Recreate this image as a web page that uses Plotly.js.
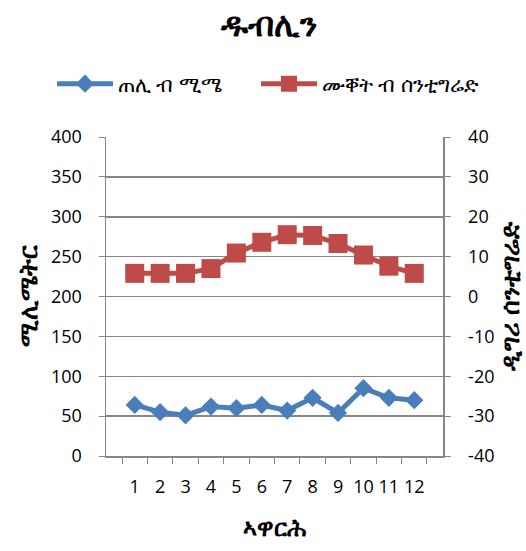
<!DOCTYPE html>
<html>
<head>
<meta charset="utf-8">
<script src="https://cdn.plot.ly/plotly-3.0.1.min.js"></script>
<style>html,body{margin:0;padding:0;background:#fff;}#chart{width:526px;height:551px;}</style>
</head>
<body>
<div id="chart"></div>
<script>
const months = ['1','2','3','4','5','6','7','8','9','10','11','12'];
const rainfallMm = [64, 55, 51, 62, 60, 64, 57, 73, 54, 85, 73, 70];
const temperatureC = [5.8, 5.8, 5.8, 7.0, 10.9, 13.6, 15.5, 15.3, 13.3, 10.4, 7.6, 5.8];
const titleText = 'ዱብሊን';
const rainName = 'ጠሊ ብ ሚሜ';
const tempName = 'ሙቐት ብ ሰንቲግሬድ';
const xTitle = 'ኣዋርሕ';
const yTitle = 'ሚሊሜትር';
const y2Title = 'ዲግሪ ሰንቲግሬድ';
const leftTicks = [0,50,100,150,200,250,300,350,400];
const rightTicks = [-40,-30,-20,-10,0,10,20,30,40];
const rightTickLabels = ['-40','-30','-20','-10','0','10','20','30','40'];

const FONT = "'Open Sans', 'DejaVu Sans', sans-serif";
const grid = '#878787';

const traces = [
  {x: months, y: rainfallMm, name: rainName, type: 'scatter', mode: 'lines+markers', legend: 'legend',
   line: {color: '#4A7EBB', width: 5}, marker: {symbol: 'diamond', size: 14, color: '#4A7EBB'}, yaxis: 'y'},
  {x: months, y: temperatureC, name: tempName, type: 'scatter', mode: 'lines+markers', legend: 'legend2',
   line: {color: '#BE4B48', width: 5}, marker: {symbol: 'square', size: 19, color: '#BE4B48'}, yaxis: 'y2'}
];

const legendBase = {orientation: 'h', xref: 'container', yref: 'container', xanchor: 'left', yanchor: 'middle',
  y: 1 - 84/551, font: {size: 21}, itemwidth: 56, bgcolor: 'rgba(0,0,0,0)'};

const layout = {
  width: 526, height: 551,
  margin: {l: 106, r: 83, t: 137, b: 95, autoexpand: false},
  paper_bgcolor: '#fff', plot_bgcolor: '#fff',
  font: {family: FONT, size: 18, color: '#000'},
  showlegend: true,
  title: {text: titleText, font: {size: 33, color: '#000', weight: 'bold'}, xref: 'paper', x: 0.485, xanchor: 'center', yref: 'container', y: 1 - 24/551, yanchor: 'middle'},
  legend: Object.assign({}, legendBase, {x: 52/526}),
  legend2: Object.assign({}, legendBase, {x: 256/526}),
  xaxis: {type: 'category', tickson: 'boundaries', ticks: 'outside', ticklen: 6, tickcolor: grid, tickangle: 0, ticklabelstandoff: 14,
    showline: true, linecolor: grid, linewidth: 1.5, showgrid: false, zeroline: false,
    title: {text: xTitle, font: {size: 24, weight: 'bold'}, standoff: 22}, tickfont: {size: 18}},
  yaxis: {range: [0, 400], tickvals: leftTicks, ticks: 'outside', ticklen: 6, tickcolor: grid, ticklabelstandoff: 13,
    showline: true, linecolor: grid, linewidth: 1.5, showgrid: true, gridcolor: grid, gridwidth: 1.5, zeroline: false,
    title: {text: yTitle, font: {size: 25, weight: 'bold'}, standoff: 6}, tickfont: {size: 18}},
  yaxis2: {range: [-40, 40], tickvals: rightTicks, ticktext: rightTickLabels, overlaying: 'y', side: 'right', ticks: 'outside', ticklen: 6, tickcolor: grid, ticklabelstandoff: 14,
    showline: true, linecolor: grid, linewidth: 1.5, showgrid: false, zeroline: false,
    title: {text: y2Title, font: {size: 25, weight: 'bold'}, standoff: 12}, tickfont: {size: 18}}
};

Plotly.newPlot('chart', traces, layout, {displayModeBar: false, staticPlot: true});
</script>
</body>
</html>
